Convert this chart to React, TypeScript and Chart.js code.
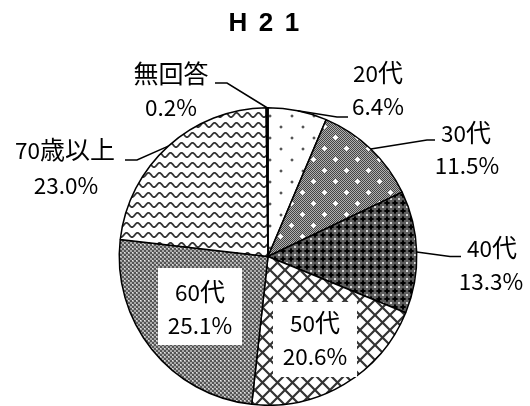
import React, { useEffect, useRef } from "react";
import { Chart, registerables } from "chart.js";

Chart.register(...registerables);

const titleText = "H21";
const categories = ["20代", "30代", "40代", "50代", "60代", "70歳以上", "無回答"];
const values = [6.4, 11.5, 13.3, 20.6, 25.1, 23.0, 0.2];
const percentLabels = ["6.4%", "11.5%", "13.3%", "20.6%", "25.1%", "23.0%", "0.2%"];

type LabelLayout = {
  index: number;
  x1: number; y1: number;
  x2: number; y2: number;
  box?: [number, number, number, number];
  leader?: [number, number][];
};

const labelLayout: LabelLayout[] = [
  { index: 0, x1: 378, y1: 74, x2: 378, y2: 107, leader: [[337, 117], [348, 117]] },
  { index: 1, x1: 466, y1: 134, x2: 467, y2: 166, leader: [[427, 140], [435, 140]] },
  { index: 2, x1: 492, y1: 249, x2: 491, y2: 282, leader: [[450, 256.5], [461, 256.5]] },
  { index: 3, x1: 315, y1: 324, x2: 315, y2: 357, box: [273, 302, 84, 75] },
  { index: 4, x1: 200, y1: 293, x2: 200, y2: 326, box: [158, 268, 84, 77] },
  { index: 5, x1: 65, y1: 151, x2: 66, y2: 186, leader: [[137, 160], [125, 160]] },
  { index: 6, x1: 171, y1: 75, x2: 171, y2: 108, leader: [[227, 83], [215, 83]] },
];

function tile(w: number, h: number, draw: (c: CanvasRenderingContext2D) => void) {
  const cv = document.createElement("canvas");
  cv.width = w;
  cv.height = h;
  const c = cv.getContext("2d")!;
  draw(c);
  return cv;
}

function makePatterns(ctx: CanvasRenderingContext2D) {
  const pat = (cv: HTMLCanvasElement) => ctx.createPattern(cv, "repeat")!;
  // 20代: sparse dots
  const p0 = tile(22, 22, (c) => {
    c.fillStyle = "#fff";
    c.fillRect(0, 0, 22, 22);
    c.fillStyle = "#ccc";
    c.fillRect(4, 5, 4, 2);
    c.fillRect(5, 4, 2, 4);
    c.fillRect(15, 16, 4, 2);
    c.fillRect(16, 15, 2, 4);
    c.fillStyle = "#555";
    c.fillRect(5, 5, 2, 2);
    c.fillRect(16, 16, 2, 2);
  });
  // 30代: grey checker with white plus
  const p1 = tile(22, 22, (c) => {
    for (let y = 0; y < 22; y++)
      for (let x = 0; x < 22; x++) {
        c.fillStyle = (x + y) % 2 === 0 ? "#444" : "#b0b0b0";
        c.fillRect(x, y, 1, 1);
      }
    c.fillStyle = "#fff";
    const plus = (cx: number, cy: number) => {
      c.fillRect(cx - 2, cy, 5, 1);
      c.fillRect(cx, cy - 2, 1, 5);
      c.fillRect(cx - 1, cy - 1, 3, 3);
    };
    plus(5, 5);
    plus(16, 16);
  });
  // 40代: dark with black plus
  const p2 = tile(8, 8, (c) => {
    c.fillStyle = "#5e5e5e";
    c.fillRect(0, 0, 8, 8);
    c.fillStyle = "#202020";
    c.fillRect(0, 2, 6, 2);
    c.fillRect(2, 0, 2, 6);
    c.fillStyle = "#000";
    c.fillRect(1, 2, 4, 2);
    c.fillRect(2, 1, 2, 4);
    c.fillStyle = "#d8d8d8";
    c.fillRect(6, 6, 2, 2);
  });
  // 50代: diagonal lattice
  const p3 = tile(15, 15, (c) => {
    c.fillStyle = "#fff";
    c.fillRect(0, 0, 15, 15);
    c.strokeStyle = "#333";
    c.lineWidth = 2.2;
    c.beginPath();
    for (const o of [-15, 0, 15]) {
      c.moveTo(o, 0);
      c.lineTo(o + 15, 15);
      c.moveTo(o + 15, 0);
      c.lineTo(o, 15);
    }
    c.stroke();
  });
  // 60代: fine grey checker
  const p4 = tile(4, 4, (c) => {
    c.fillStyle = "#555";
    c.fillRect(0, 0, 4, 4);
    c.fillStyle = "#aaa";
    c.fillRect(0, 0, 2, 2);
    c.fillRect(2, 2, 2, 2);
    c.fillStyle = "#e6e6e6";
    c.fillRect(0, 0, 1, 1);
  });
  // 70歳以上: waves
  const p5 = tile(11, 10, (c) => {
    c.fillStyle = "#fff";
    c.fillRect(0, 0, 11, 10);
    c.strokeStyle = "#333";
    c.lineWidth = 1.8;
    c.beginPath();
    for (let x = -1; x <= 12; x += 0.5) {
      const y = 5 + 2.2 * Math.cos((2 * Math.PI * x) / 11);
      if (x === -1) c.moveTo(x, y);
      else c.lineTo(x, y);
    }
    c.stroke();
  });
  return [pat(p0), pat(p1), pat(p2), pat(p3), pat(p4), pat(p5), "#000"];
}

const latinFont = '22.5px "Noto Sans CJK JP", "Noto Sans", sans-serif';
const cjkFont = '25px "Noto Sans CJK JP", sans-serif';
const isCJK = (ch: string) => /[\u3000-\u9fff\uff00-\uffef]/.test(ch);

function drawMixed(ctx: CanvasRenderingContext2D, text: string, cx: number, cy: number) {
  const runs: { t: string; cjk: boolean }[] = [];
  for (const ch of text) {
    const c = isCJK(ch);
    if (runs.length && runs[runs.length - 1].cjk === c) runs[runs.length - 1].t += ch;
    else runs.push({ t: ch, cjk: c });
  }
  let total = 0;
  const widths = runs.map((r) => {
    ctx.font = r.cjk ? cjkFont : latinFont;
    const w = ctx.measureText(r.t).width;
    total += w;
    return w;
  });
  let x = cx - total / 2;
  ctx.textAlign = "left";
  ctx.textBaseline = "alphabetic";
  runs.forEach((r, i) => {
    ctx.font = r.cjk ? cjkFont : latinFont;
    ctx.fillText(r.t, x, cy + 8);
    x += widths[i];
  });
}

const overlayPlugin = {
  id: "overlay",
  afterDraw(chart: any) {
    const ctx: CanvasRenderingContext2D = chart.ctx;
    const meta = chart.getDatasetMeta(0);
    ctx.save();
    ctx.fillStyle = "#000";
    ctx.font = 'bold 26px "Liberation Sans", Arial, sans-serif';
    ctx.textAlign = "center";
    ctx.textBaseline = "middle";
    const tx = [238, 266, 292];
    titleText.split("").forEach((ch, i) => ctx.fillText(ch, tx[i], 24));

    for (const L of labelLayout) {
      const arc = meta.data[L.index] as any;
      if (L.leader) {
        const mid = (arc.startAngle + arc.endAngle) / 2;
        const sx = arc.x + Math.cos(mid) * arc.outerRadius;
        const sy = arc.y + Math.sin(mid) * arc.outerRadius;
        ctx.strokeStyle = "#000";
        ctx.lineWidth = 1.5;
        ctx.beginPath();
        ctx.moveTo(sx, sy);
        for (const [px, py] of L.leader) ctx.lineTo(px, py);
        ctx.stroke();
      }
      if (L.box) {
        ctx.fillStyle = "#fff";
        ctx.fillRect(L.box[0], L.box[1], L.box[2], L.box[3]);
      }
      ctx.fillStyle = "#000";
      drawMixed(ctx, categories[L.index], L.x1, L.y1);
      drawMixed(ctx, percentLabels[L.index], L.x2, L.y2);
    }
    ctx.restore();
  },
};

export default function App() {
  const ref = useRef<HTMLCanvasElement | null>(null);
  useEffect(() => {
    const cv = ref.current!;
    const ctx = cv.getContext("2d")!;
    const chart = new Chart(cv, {
      type: "pie",
      data: {
        labels: categories,
        datasets: [
          {
            data: values,
            backgroundColor: makePatterns(ctx) as any,
            borderColor: "#000",
            borderWidth: 1.5,
          },
        ],
      },
      options: {
        responsive: false,
        animation: false,
        devicePixelRatio: 1,
        layout: { padding: { top: 107, bottom: 0, left: 118, right: 112 } },
        plugins: { legend: { display: false }, tooltip: { enabled: false }, title: { display: false } },
      },
      plugins: [overlayPlugin],
    });
    return () => chart.destroy();
  }, []);
  return (
    <div style={{ position: "fixed", left: 0, top: 0, width: 530, height: 406, background: "#fff" }}>
      <canvas ref={ref} width={530} height={406} />
    </div>
  );
}
